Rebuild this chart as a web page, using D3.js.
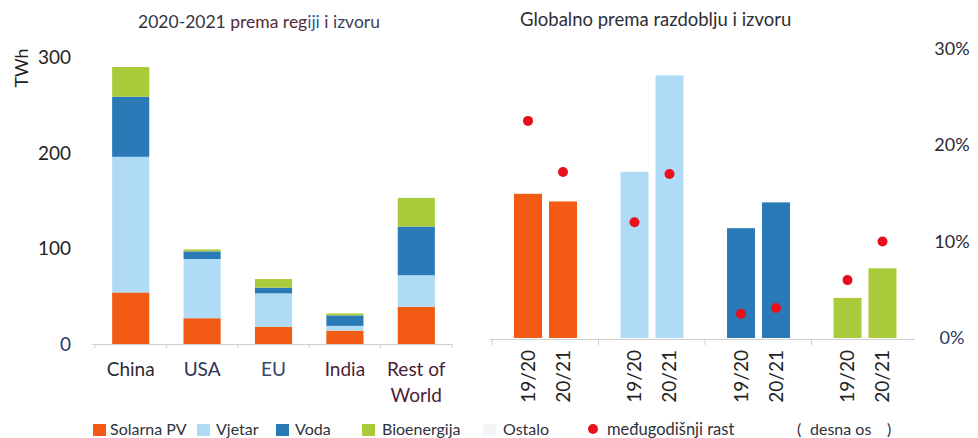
<!DOCTYPE html>
<html>
<head>
<meta charset="utf-8">
<script src="https://cdn.jsdelivr.net/npm/d3@7"></script>
<style>
  body { margin: 0; background: #fff; }
  text { font-family: Lato, "Open Sans", sans-serif; }
</style>
</head>
<body>
<script>
// lijevi panel: 2020-2021 po regijama (TWh)
var regions = ['China', 'USA', 'EU', 'India', 'Rest of World'];
var solar = [54, 27, 18, 14, 39];
var wind  = [142, 62, 35, 5, 33];
var hydro = [63, 8, 6, 11, 51];
var bio   = [31, 2, 9, 2, 30];
var other = [0, 0, 0, 0, 0];

// desni panel: globalno po razdoblju
var sources = ['Solarna PV', 'Vjetar', 'Voda', 'Bioenergija'];
var periods = ['19/20', '20/21'];
var global1920 = [151, 174, 115, 42];
var global2021 = [143, 275, 142, 73];
var growth1920 = [0.225, 0.12, 0.025, 0.06];
var growth2021 = [0.172, 0.17, 0.031, 0.10];

var leftTicks = [0, 100, 200, 300];
var rightTicks = [0, 0.1, 0.2, 0.3];

var colors = {
  'Solarna PV': '#f35b14',
  'Vjetar': '#afdbf7',
  'Voda': '#2a7ab8',
  'Bioenergija': '#a9cb3a',
  'Ostalo': '#f4f5f6'
};
var keys = ['Solarna PV', 'Vjetar', 'Voda', 'Bioenergija', 'Ostalo'];
var regionColors = ['#2b2b30', '#2f3552', '#3a4568', '#4a1f3c', '#4a2236'];

var width = 978, height = 438;

var svg = d3.select('body').append('svg')
    .attr('width', width)
    .attr('height', height);

// ---------- lijevi panel ----------
var xL = d3.scaleBand().domain(regions).range([95, 452])
    .paddingInner(0.48).paddingOuter(0.24);
var yL = d3.scaleLinear().domain([0, 300]).range([344, 57.5]);

var rows = regions.map(function(r, i) {
  return {region: r, 'Solarna PV': solar[i], 'Vjetar': wind[i], 'Voda': hydro[i],
          'Bioenergija': bio[i], 'Ostalo': other[i]};
});
var stacked = d3.stack().keys(keys)(rows);

svg.append('g').selectAll('g').data(stacked).join('g')
    .attr('fill', function(s) { return colors[s.key]; })
  .selectAll('rect').data(function(s) { return s; }).join('rect')
    .attr('x', function(d) { return xL(d.data.region); })
    .attr('width', xL.bandwidth())
    .attr('y', function(d) { return yL(d[1]); })
    .attr('height', function(d) { return yL(d[0]) - yL(d[1]); });

// osnovna linija lijevo
var stepL = xL.step();
svg.append('line').attr('x1', 92).attr('x2', 452).attr('y1', yL(0) + 0.5).attr('y2', yL(0) + 0.5)
    .attr('stroke', '#cfcfcf').attr('stroke-width', 1.2);
svg.append('g').selectAll('line').data(d3.range(regions.length + 1)).join('line')
    .attr('x1', function(i) { return 95 + i * stepL; })
    .attr('x2', function(i) { return 95 + i * stepL; })
    .attr('y1', yL(0)).attr('y2', yL(0) + 4)
    .attr('stroke', '#cfcfcf');

svg.append('g').selectAll('text').data(leftTicks).join('text')
    .attr('x', 71).attr('y', function(d) { return yL(d); })
    .attr('dy', '0.36em')
    .attr('text-anchor', 'end')
    .attr('font-size', 19)
    .attr('fill', function(d) { return d === 0 ? '#2b3966' : '#232323'; })
    .text(function(d) { return d; });

svg.append('text')
    .attr('transform', 'translate(28,68) rotate(-90)')
    .attr('text-anchor', 'middle')
    .attr('font-size', 18)
    .attr('fill', '#222')
    .text('TWh');

var catLabels = svg.append('g').selectAll('text').data(regions).join('text')
    .attr('x', function(d) { return xL(d) + xL.bandwidth() / 2; })
    .attr('y', 376)
    .attr('text-anchor', 'middle')
    .attr('font-size', 19)
    .attr('fill', function(d, i) { return regionColors[i]; });
catLabels.each(function(d) {
  var t = d3.select(this);
  var parts = d === 'Rest of World' ? ['Rest of', 'World'] : [d];
  parts.forEach(function(p, j) {
    t.append('tspan').attr('x', t.attr('x')).attr('dy', j === 0 ? 0 : 26).text(p);
  });
});

var titleL = svg.append('text').attr('x', 259).attr('y', 28)
    .attr('text-anchor', 'middle').attr('font-size', 17.5);
titleL.append('tspan').attr('fill', '#34343f').text('2020-2021 ');
titleL.append('tspan').attr('fill', '#552a3a').text('prema reg');
titleL.append('tspan').attr('fill', '#2c5aa6').text('iji');
titleL.append('tspan').attr('fill', '#552a3a').text(' i ');
titleL.append('tspan').attr('fill', '#40415a').text('izvoru');

// ---------- desni panel ----------
var xR = d3.scaleBand().domain(sources).range([492, 918]);
var xP = d3.scaleBand().domain(periods).range([22, 85]).paddingInner(0.2);
var yR = d3.scaleLinear().domain([0, 300]).range([338, 51.5]);
var yPct = d3.scaleLinear().domain([0, 0.3]).range([338, 48.5]);

var globalRows = [];
sources.forEach(function(s, i) {
  globalRows.push({source: s, period: periods[0], value: global1920[i], growth: growth1920[i]});
  globalRows.push({source: s, period: periods[1], value: global2021[i], growth: growth2021[i]});
});

svg.append('g').selectAll('rect').data(globalRows).join('rect')
    .attr('x', function(d) { return xR(d.source) + xP(d.period); })
    .attr('width', xP.bandwidth())
    .attr('y', function(d) { return yR(d.value); })
    .attr('height', function(d) { return yR(0) - yR(d.value); })
    .attr('fill', function(d) { return colors[d.source]; });

svg.append('line').attr('x1', 490).attr('x2', 915).attr('y1', yR(0) + 1.5).attr('y2', yR(0) + 1.5)
    .attr('stroke', '#cfcfcf').attr('stroke-width', 1.2);
svg.append('g').selectAll('line').data(d3.range(sources.length)).join('line')
    .attr('x1', function(i) { return xR(sources[i]); })
    .attr('x2', function(i) { return xR(sources[i]); })
    .attr('y1', yR(0) + 1).attr('y2', yR(0) + 7)
    .attr('stroke', '#cfcfcf');

svg.append('g').selectAll('circle').data(globalRows).join('circle')
    .attr('cx', function(d) { return xR(d.source) + xP(d.period) + xP.bandwidth() / 2; })
    .attr('cy', function(d) { return yPct(d.growth); })
    .attr('r', 5)
    .attr('fill', '#e8101c');

svg.append('g').selectAll('text').data(globalRows).join('text')
    .attr('transform', function(d) {
      var x = xR(d.source) + xP(d.period) + xP.bandwidth() / 2;
      return 'translate(' + x + ',350) rotate(-90)';
    })
    .attr('dy', '0.36em')
    .attr('text-anchor', 'end')
    .attr('font-size', 19)
    .attr('fill', '#222')
    .text(function(d) { return d.period; });

svg.append('g').selectAll('text').data(rightTicks).join('text')
    .attr('x', 952).attr('y', function(d) { return yPct(d); })
    .attr('dy', '0.36em')
    .attr('text-anchor', 'middle')
    .attr('font-size', 18)
    .attr('fill', function(d) { return d === 0 ? '#2b3966' : '#2a2a30'; })
    .text(d3.format('.0%'));

svg.append('text').attr('x', 520).attr('y', 26)
    .attr('font-size', 18.5).attr('fill', '#2e2e34')
    .text('Globalno prema razdoblju i izvoru');

// ---------- legenda ----------
var legend = [
  {key: 'Solarna PV', sx: 93, tx: 110},
  {key: 'Vjetar', sx: 197, tx: 216},
  {key: 'Voda', sx: 276, tx: 295},
  {key: 'Bioenergija', sx: 362, tx: 382},
  {key: 'Ostalo', sx: 483, tx: 503}
];
var lg = svg.append('g');
legend.forEach(function(l) {
  lg.append('rect').attr('x', l.sx).attr('y', 424).attr('width', 13).attr('height', 12)
      .attr('fill', colors[l.key]);
  lg.append('text').attr('x', l.tx).attr('y', 435).attr('font-size', 16)
      .attr('fill', '#30323c').text(l.key);
});
lg.append('circle').attr('cx', 593).attr('cy', 429).attr('r', 5).attr('fill', '#e8101c');
lg.append('text').attr('x', 607).attr('y', 435).attr('font-size', 16.5)
    .attr('fill', '#30323c').text('međugodišnji rast');
lg.append('text').attr('x', 797).attr('y', 435).attr('font-size', 16)
    .attr('fill', '#30323c').text('(');
lg.append('text').attr('x', 810).attr('y', 435).attr('font-size', 16)
    .attr('fill', '#30323c').text('desna os');
lg.append('text').attr('x', 887).attr('y', 435).attr('font-size', 16)
    .attr('fill', '#30323c').text(')');
</script>
</body>
</html>
